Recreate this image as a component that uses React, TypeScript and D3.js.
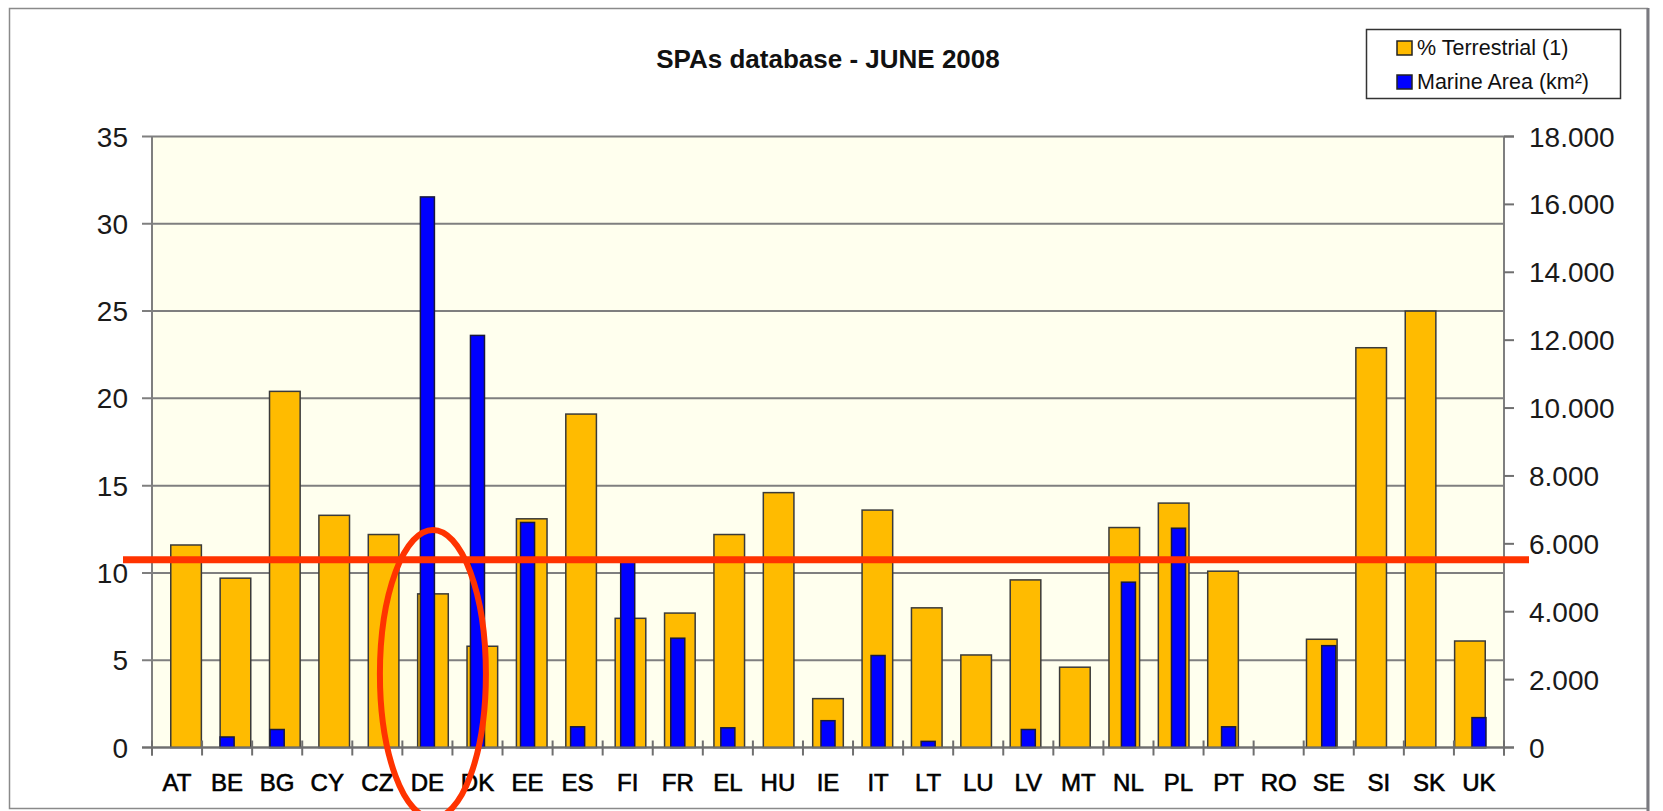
import React from 'react';
import * as d3 from 'd3';

const categories = ['AT', 'BE', 'BG', 'CY', 'CZ', 'DE', 'DK', 'EE', 'ES', 'FI', 'FR', 'EL', 'HU', 'IE',
  'IT', 'LT', 'LU', 'LV', 'MT', 'NL', 'PL', 'PT', 'RO', 'SE', 'SI', 'SK', 'UK'];

// % Terrestrial (1), left axis
const terrestrial = [11.6, 9.7, 20.4, 13.3, 12.2, 8.8, 5.8, 13.1, 19.1, 7.4, 7.7, 12.2, 14.6, 2.8,
  13.6, 8.0, 5.3, 9.6, 4.6, 12.6, 14.0, 10.1, 0, 6.2, 22.9, 25.0, 6.1];

// Marine Area (km²), right axis
const marine = [0, 310, 530, 0, 0, 16220, 12140, 6630, 610, 5500, 3220, 580, 0, 790,
  2710, 180, 0, 530, 0, 4870, 6460, 610, 0, 3000, 0, 0, 880];

const leftTicks = [0, 5, 10, 15, 20, 25, 30, 35];
const rightTicks = [0, 2000, 4000, 6000, 8000, 10000, 12000, 14000, 16000, 18000];

const legendItems = [
  { label: '% Terrestrial (1)', color: '#FFBB00' },
  { label: 'Marine Area (km²)', color: '#0000FF' },
];

// the hand-drawn red marks on the picture
const markLevel = 10.75;
const markedCountry = 'DE';

const W = 1663;
const H = 811;
const FONT = '"Liberation Sans", Arial, sans-serif';

export default function App() {
  const ref = React.useRef<SVGSVGElement>(null);

  React.useEffect(() => {
    const svg = d3.select(ref.current);
    svg.selectAll('*').remove();

    const left = 152, right = 1504, top = 136.5, bottom = 747.5;

    const x = d3.scaleBand<string>().domain(categories).range([left, right]);
    const xOrange = d3.scaleBand<string>().domain(categories).range([left, right]).padding(0.38);
    const xBlue = d3.scaleBand<string>().domain(categories).range([left, right]).paddingInner(0.72).paddingOuter(0.36);
    const yL = d3.scaleLinear().domain([0, 35]).range([bottom, top]);
    const yR = d3.scaleLinear().domain([0, 18000]).range([bottom, top]);

    const fmt = d3.formatLocale({ decimal: ',', thousands: '.', grouping: [3], currency: ['', ''] }).format(',d');

    // outer chart frame
    svg.append('rect')
      .attr('x', 9.5).attr('y', 8.5).attr('width', 1638).attr('height', 800)
      .attr('fill', '#fff').attr('stroke', '#8a8a8a').attr('stroke-width', 1.5);
    svg.append('line')
      .attr('x1', 1648).attr('x2', 1648).attr('y1', 8).attr('y2', H)
      .attr('stroke', '#7a7a80').attr('stroke-width', 3);

    // plot area
    svg.append('rect')
      .attr('x', left).attr('y', top).attr('width', right - left).attr('height', bottom - top)
      .attr('fill', '#FFFFEE');

    svg.selectAll('.grid')
      .data(leftTicks)
      .enter().append('line')
      .attr('x1', left - 10).attr('x2', d => (d === 35 ? right + 10 : right))
      .attr('y1', d => yL(d)).attr('y2', d => yL(d))
      .attr('stroke', '#7f7f7f').attr('stroke-width', 2);

    // orange bars
    svg.selectAll('.terr')
      .data(categories.map((c, i) => ({ c, v: terrestrial[i] })).filter(d => d.v > 0))
      .enter().append('rect')
      .attr('x', d => xOrange(d.c) as number)
      .attr('width', xOrange.bandwidth())
      .attr('y', d => yL(d.v))
      .attr('height', d => bottom - yL(d.v))
      .attr('fill', '#FFBB00').attr('stroke', '#3a3a3a').attr('stroke-width', 1.5);

    // blue bars (secondary axis)
    svg.selectAll('.marine')
      .data(categories.map((c, i) => ({ c, v: marine[i] })).filter(d => d.v > 0))
      .enter().append('rect')
      .attr('x', d => xBlue(d.c) as number)
      .attr('width', xBlue.bandwidth())
      .attr('y', d => yR(d.v))
      .attr('height', d => bottom - yR(d.v))
      .attr('fill', '#0000FF').attr('stroke', '#1a1a3a').attr('stroke-width', 1.5);

    // axes lines
    svg.append('line').attr('x1', left).attr('x2', left).attr('y1', top).attr('y2', bottom + 8)
      .attr('stroke', '#7f7f7f').attr('stroke-width', 2);
    svg.append('line').attr('x1', right).attr('x2', right).attr('y1', top).attr('y2', bottom + 8)
      .attr('stroke', '#7f7f7f').attr('stroke-width', 2);
    svg.append('line').attr('x1', left - 10).attr('x2', right + 10).attr('y1', bottom).attr('y2', bottom)
      .attr('stroke', '#6f6f6f').attr('stroke-width', 2);

    // category boundary ticks
    svg.selectAll('.xtick')
      .data(d3.range(categories.length + 1))
      .enter().append('line')
      .attr('x1', i => left + i * x.step()).attr('x2', i => left + i * x.step())
      .attr('y1', bottom - 7).attr('y2', bottom + 8)
      .attr('stroke', '#6f6f6f').attr('stroke-width', 2);

    // left ticks labels
    svg.selectAll('.ylab')
      .data(leftTicks)
      .enter().append('text')
      .attr('x', 128).attr('y', d => yL(d)).attr('dy', '0.36em')
      .attr('text-anchor', 'end').attr('font-family', FONT).attr('font-size', 28).attr('fill', '#1a1a1a')
      .text(d => d);

    // right ticks
    svg.selectAll('.rtick')
      .data(rightTicks)
      .enter().append('line')
      .attr('x1', right).attr('x2', right + 10)
      .attr('y1', d => yR(d)).attr('y2', d => yR(d))
      .attr('stroke', '#6f6f6f').attr('stroke-width', 2);
    svg.selectAll('.rlab')
      .data(rightTicks)
      .enter().append('text')
      .attr('x', 1529).attr('y', d => yR(d)).attr('dy', '0.36em')
      .attr('font-family', FONT).attr('font-size', 28).attr('fill', '#1a1a1a')
      .text(d => fmt(d));

    // category labels
    svg.selectAll('.xlab')
      .data(categories)
      .enter().append('text')
      .attr('x', d => (x(d) as number) + x.bandwidth() / 2).attr('y', 791)
      .attr('text-anchor', 'middle').attr('font-family', FONT).attr('font-size', 24).attr('fill', '#000')
      .attr('stroke', '#000').attr('stroke-width', 0.6)
      .text(d => d);

    // title
    svg.append('text')
      .attr('x', 828).attr('y', 68).attr('text-anchor', 'middle')
      .attr('font-family', FONT).attr('font-size', 26).attr('font-weight', 'bold').attr('fill', '#111')
      .text('SPAs database - JUNE 2008');

    // legend
    const lg = svg.append('g');
    lg.append('rect').attr('x', 1366.5).attr('y', 29.5).attr('width', 254).attr('height', 69)
      .attr('fill', '#fff').attr('stroke', '#333').attr('stroke-width', 1.5);
    legendItems.forEach((item, i) => {
      lg.append('rect').attr('x', 1397).attr('y', 41 + i * 34).attr('width', 15).attr('height', 14)
        .attr('fill', item.color).attr('stroke', '#222').attr('stroke-width', 1.5);
      lg.append('text').attr('x', 1417).attr('y', 55 + i * 34)
        .attr('font-family', FONT).attr('font-size', 21.5).attr('fill', '#111')
        .text(item.label);
    });

    // red annotation: horizontal line and ellipse
    svg.append('line')
      .attr('x1', 123).attr('x2', 1529).attr('y1', yL(markLevel)).attr('y2', yL(markLevel))
      .attr('stroke', '#FF3300').attr('stroke-width', 7);
    svg.append('ellipse')
      .attr('cx', (x(markedCountry) as number) + x.bandwidth() / 2 + 5.5)
      .attr('cy', 674).attr('rx', 53).attr('ry', 144)
      .attr('fill', 'none').attr('stroke', '#FF3300').attr('stroke-width', 6);
  }, []);

  return (
    <svg ref={ref} width={W} height={H}
      style={{ position: 'absolute', left: 0, top: 0, background: '#fff' }} />
  );
}
